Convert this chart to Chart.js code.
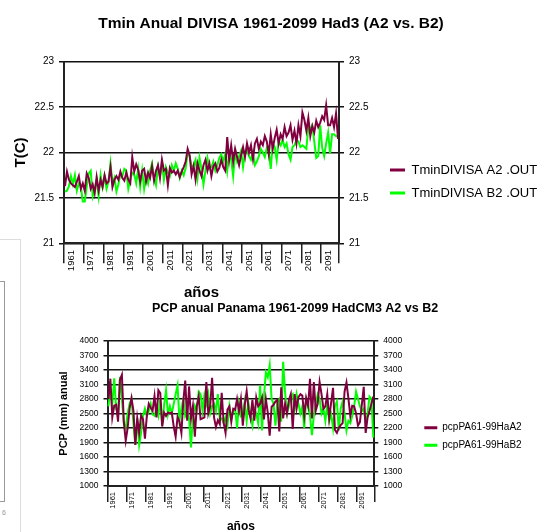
<!DOCTYPE html>
<html><head><meta charset="utf-8">
<script src="https://cdn.jsdelivr.net/npm/chart.js@4/dist/chart.umd.min.js"></script>
<style>
html,body{margin:0;padding:0;background:#fff;overflow:hidden;width:541px;height:532px;}
canvas{position:absolute;left:0;}
#c1{top:0;}
#c2{top:290px;}
.deco{position:absolute;box-sizing:border-box;}
</style></head><body>
<div class="deco" style="left:0;top:239px;width:21px;height:293px;border-top:1px solid #dcdcdc;border-right:1px solid #dcdcdc;"></div>
<div class="deco" style="left:-2px;top:281px;width:7px;height:221px;border:1px solid #9a9a9a;"></div>
<div class="deco" style="left:2px;top:509px;font:7px 'Liberation Sans',Arial,sans-serif;color:#999;">6</div>
<canvas id="c1" width="541" height="363"></canvas>
<canvas id="c2" width="541" height="293"></canvas>
<script>
const years = ['1961','1962','1963','1964','1965','1966','1967','1968','1969','1970',
'1971','1972','1973','1974','1975','1976','1977','1978','1979','1980',
'1981','1982','1983','1984','1985','1986','1987','1988','1989','1990',
'1991','1992','1993','1994','1995','1996','1997','1998','1999','2000',
'2001','2002','2003','2004','2005','2006','2007','2008','2009','2010',
'2011','2012','2013','2014','2015','2016','2017','2018','2019','2020',
'2021','2022','2023','2024','2025','2026','2027','2028','2029','2030',
'2031','2032','2033','2034','2035','2036','2037','2038','2039','2040',
'2041','2042','2043','2044','2045','2046','2047','2048','2049','2050',
'2051','2052','2053','2054','2055','2056','2057','2058','2059','2060',
'2061','2062','2063','2064','2065','2066','2067','2068','2069','2070',
'2071','2072','2073','2074','2075','2076','2077','2078','2079','2080',
'2081','2082','2083','2084','2085','2086','2087','2088','2089','2090',
'2091','2092','2093','2094','2095','2096','2097','2098','2099'];
const tickYears = ['1961','1971','1981','1991','2001','2011','2021','2031','2041','2051','2061','2071','2081','2091'];

const tminTicks = [21, 21.5, 22, 22.5, 23];
const pcpTicks = [1000, 1300, 1600, 1900, 2200, 2500, 2800, 3100, 3400, 3700, 4000];

const tminA2 = [
21.63,21.79,21.70,21.66,21.64,21.62,21.68,21.74,21.60,21.66,
21.58,21.77,21.72,21.60,21.65,21.55,21.73,21.58,21.70,21.62,
21.75,21.66,21.68,21.84,21.62,21.70,21.74,21.70,21.79,21.72,
21.69,21.78,21.70,21.66,21.95,21.79,21.87,21.81,21.68,21.80,
21.82,21.68,21.78,21.72,21.85,21.69,21.80,21.86,21.72,21.92,
21.80,21.82,21.64,21.83,21.78,21.80,21.76,21.80,21.73,21.79,
21.84,21.90,22.04,21.97,21.76,21.85,21.70,21.88,21.80,21.74,
21.86,21.92,21.80,21.88,21.74,21.85,21.88,21.79,21.83,21.92,
21.84,21.80,22.17,21.92,22.08,21.90,22.04,21.95,21.86,21.97,
22.06,21.95,22.10,22.00,22.08,21.93,22.10,22.15,22.04,22.12,
22.08,22.18,22.12,21.98,22.20,22.04,22.16,22.25,22.10,22.20,
22.15,22.28,22.18,22.22,22.30,22.14,22.24,22.10,22.30,22.18,
22.44,22.36,22.24,22.38,22.18,22.29,22.22,22.35,22.28,22.33,
22.40,22.36,22.52,22.30,22.30,22.38,22.28,22.43,22.15];
const tminB2 = [
21.57,21.58,21.63,21.74,21.65,21.75,21.58,21.66,21.63,21.46,
21.46,21.63,21.77,21.80,21.52,21.60,21.70,21.52,21.75,21.62,
21.74,21.60,21.68,21.88,21.66,21.72,21.57,21.65,21.76,21.74,
21.82,21.80,21.60,21.70,21.78,21.76,21.66,21.82,21.62,21.80,
21.60,21.74,21.66,21.80,21.88,21.72,21.64,21.84,21.74,21.88,
21.70,21.84,21.78,21.74,21.86,21.80,21.88,21.82,21.72,21.80,
21.75,21.83,22.00,21.96,21.84,21.86,21.92,21.72,21.94,21.82,
21.65,21.80,21.94,21.82,21.84,21.90,21.80,21.86,21.94,21.98,
21.90,21.98,21.80,22.00,21.92,21.74,22.00,21.90,21.96,22.02,
21.84,22.00,22.02,21.96,21.92,22.00,21.86,21.90,21.96,22.04,
22.00,21.95,22.05,22.02,21.82,22.10,22.06,21.92,22.12,22.08,
22.14,22.06,22.10,21.98,21.92,22.06,22.08,22.14,22.12,22.06,
22.08,22.06,22.04,22.28,22.26,22.30,22.12,21.94,21.96,22.30,
22.05,21.96,22.10,22.22,21.99,22.20,22.20,22.18,22.18];

const pcpA2 = [
2800,3220,2420,2660,2680,2330,3200,3300,2320,1940,
2200,2600,2820,2560,1850,2400,2100,2460,2380,1980,
2450,2700,2620,2560,2860,2420,2980,2920,2230,2520,
2450,2520,2500,2520,2230,2020,2430,2330,2100,2750,
3180,2350,3060,2400,2660,2020,2650,2850,2380,2400,
2420,3150,2500,2650,3240,2420,2220,2360,2280,2930,
2310,2100,2580,2650,2330,2600,2580,2800,2550,2800,
2250,2680,2960,2580,2400,2780,2350,2830,2650,2700,
2830,2380,2800,2520,2040,2640,2680,2750,2780,2130,
3040,2400,2700,2500,2780,2900,2180,2900,2600,2840,
2900,2870,2450,2820,2650,3220,2400,3150,2560,2700,
3150,2900,2600,2650,2900,2400,2720,3030,2160,2100,
2200,2260,2300,2950,3140,2820,2450,2660,2650,2500,
2250,2320,2680,3050,2100,2420,2550,2700,2850];
const pcpB2 = [
2650,3000,2700,3230,2600,2500,3260,2800,2300,2200,
2500,2700,2800,2300,1850,2400,1850,2100,2450,2600,
2450,2550,2700,2480,2450,2600,2450,2800,2250,2680,
2980,2480,2650,2500,2700,2900,3080,2350,2600,2800,
2450,2550,2400,1800,2450,2660,2550,2950,2900,2550,
2880,2700,2900,2500,2650,2700,2550,2900,2380,2400,
2300,2420,2250,2650,2400,2550,2600,2200,2700,2450,
2500,2750,2350,2700,2450,2250,2600,2500,2300,3080,
2150,2850,3350,3250,3500,2800,2700,2250,2750,2800,
2330,3570,2950,2500,2650,2850,2900,2600,2900,2700,
2500,2650,2200,2800,2700,2450,2050,2450,2700,2900,
2800,2500,2600,2350,2700,2350,2480,2200,2650,2750,
2150,2600,2750,2500,2150,2350,2300,2450,2650,2950,
2800,2650,2550,2600,2300,2500,2850,2800,2000];

const FONT = "'Liberation Sans', Arial, Helvetica, sans-serif";
const MAROON = '#80003F';
const GREEN = '#00FF00';

function fixW(w){ return s => { s.width = w; }; }
function fixH(h){ return s => { s.height = h; }; }
function lineLegend(items){ items.forEach(it => { it.lineWidth = 0; it.fillStyle = it.strokeStyle; }); return items; }

function makeChart(el, cfg){
  const setTicks = arr => (s => { s.ticks = arr.map(v => ({value: v})); });
  const plain = v => String(v);
  return new Chart(el, {
    type: 'line',
    data: {
      labels: years,
      datasets: [
        {label: cfg.labels[0], data: cfg.a2, borderColor: MAROON, backgroundColor: MAROON, borderWidth: 2, pointRadius: 0, tension: 0, fill: false},
        {label: cfg.labels[1], data: cfg.b2, borderColor: GREEN, backgroundColor: GREEN, borderWidth: 2, pointRadius: 0, tension: 0, fill: false}
      ]
    },
    options: {
      responsive: false, animation: false, devicePixelRatio: 1,
      layout: {padding: cfg.pad},
      plugins: {
        tooltip: {enabled: false},
        title: {display: true, text: cfg.title, color: '#000', font: {family: FONT, size: cfg.titleSize, weight: 'bold'}, padding: cfg.titlePad},
        legend: {
          position: 'right', align: 'center', maxWidth: cfg.legendW,
          labels: {color: '#000', font: {family: FONT, size: cfg.legSize}, boxWidth: cfg.legBox, boxHeight: 3, padding: cfg.legPad,
            generateLabels: ch => lineLegend(Chart.defaults.plugins.legend.labels.generateLabels(ch))}
        }
      },
      scales: {
        x: {
          type: 'category', offset: true,
          ticks: {autoSkip: false, minRotation: 90, maxRotation: 90, color: '#000', font: {family: FONT, size: cfg.xSize}, padding: cfg.xPad, labelOffset: cfg.xOff,
            callback: function(v, i){ const l = this.getLabelForValue(v); return tickYears.includes(l) ? l : ''; }},
          grid: {offset: true, drawOnChartArea: false, drawTicks: true, tickLength: cfg.xTick, lineWidth: 1.5,
            color: c => (c.index === undefined || c.index % 10 === 0) ? '#222' : 'rgba(0,0,0,0)'},
          border: {display: true, color: '#222', width: 2},
          title: {display: true, text: 'años', color: '#000', font: {family: FONT, size: cfg.xtSize, weight: 'bold'}, padding: {top: 0, bottom: cfg.xtPad}},
          afterFit: fixH(cfg.xH)
        },
        y: {
          position: 'left', min: cfg.min, max: cfg.max, afterBuildTicks: setTicks(cfg.ticks),
          ticks: {color: '#000', font: {family: FONT, size: cfg.ySize}, padding: cfg.yPad, callback: plain},
          grid: {color: '#111', lineWidth: 1.5, tickLength: cfg.yTick},
          border: {display: true, color: '#222', width: 2},
          title: {display: true, text: cfg.yTitle, color: '#000', font: {family: FONT, size: cfg.ytSize, weight: 'bold'}, padding: {top: cfg.ytPad, bottom: 0}},
          afterFit: fixW(cfg.yW)
        },
        y2: {
          position: 'right', min: cfg.min, max: cfg.max, afterBuildTicks: setTicks(cfg.ticks),
          ticks: {color: '#000', font: {family: FONT, size: cfg.ySize}, padding: cfg.yPad, callback: plain},
          grid: {drawOnChartArea: false, color: '#111', lineWidth: 1.5, tickLength: cfg.yTick},
          border: {display: true, color: '#222', width: 2},
          afterFit: fixW(cfg.y2W)
        }
      }
    }
  });
}

makeChart(document.getElementById('c1'), {
  title: 'Tmin Anual DIVISA 1961-2099 Had3 (A2 vs. B2)', titleSize: 15.5, titlePad: {top: 14, bottom: 29.1},
  labels: ['TminDIVISA A2 .OUT', 'TminDIVISA B2 .OUT'], a2: tminA2, b2: tminB2,
  pad: {left: 1, right: 0, top: 0, bottom: 0}, legendW: 161, legSize: 13, legBox: 15, legPad: 10,
  xSize: 9.5, xPad: -13.3, xOff: 6, xTick: 20, xtSize: 15, xtPad: 61, xH: 119.7,
  min: 21, max: 23, ticks: tminTicks, ySize: 10, yPad: 5, yTick: 5, yTitle: 'T(C)', ytSize: 15, ytPad: 11, yW: 63, y2W: 41
});

makeChart(document.getElementById('c2'), {
  title: 'PCP anual Panama 1961-2099 HadCM3 A2 vs B2', titleSize: 12.5, titlePad: {top: 10.8, bottom: 25.2},
  labels: ['pcpPA61-99HaA2', 'pcpPA61-99HaB2'], a2: pcpA2, b2: pcpB2,
  pad: {left: 63.3, right: 14.3, top: 0, bottom: 0}, legendW: 110, legSize: 10, legBox: 13, legPad: 7.6,
  xSize: 7.5, xPad: -10, xOff: 4, xTick: 16, xtSize: 12, xtPad: 49.1, xH: 97,
  min: 1000, max: 4000, ticks: pcpTicks, ySize: 8.5, yPad: 5, yTick: 4, yTitle: 'PCP (mm) anual', ytSize: 11, ytPad: -5.9, yW: 44.2, y2W: 42.4
});
</script>
</body></html>
